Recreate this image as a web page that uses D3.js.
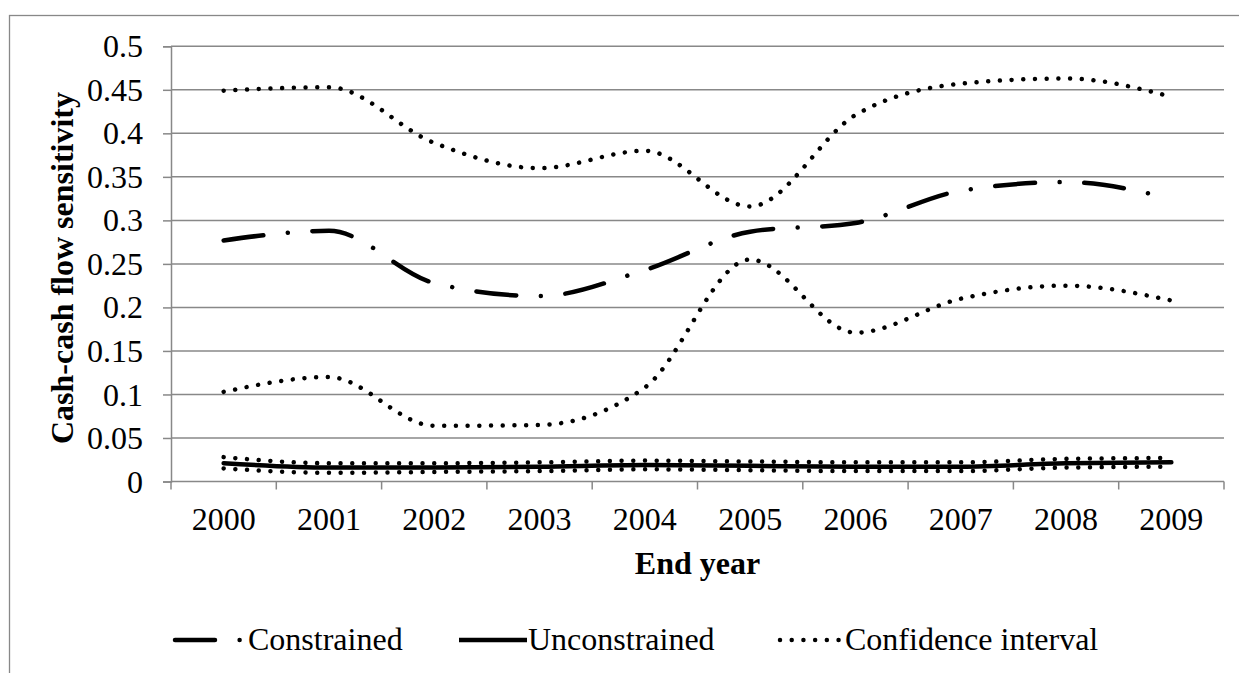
<!DOCTYPE html>
<html>
<head>
<meta charset="utf-8">
<script src="https://cdn.jsdelivr.net/npm/d3@7"></script>
<style>
  html, body { margin: 0; padding: 0; background: #fff; }
  svg { display: block; }
</style>
</head>
<body>
<svg id="chart" width="1239" height="673"></svg>
<script>
const years = ["2000","2001","2002","2003","2004","2005","2006","2007","2008","2009"];
const yTicks = [0, 0.05, 0.1, 0.15, 0.2, 0.25, 0.3, 0.35, 0.4, 0.45, 0.5];

const constrained      = [0.277, 0.288, 0.228, 0.213, 0.243, 0.287, 0.297, 0.334, 0.344, 0.325];
const constrainedUpper = [0.449, 0.453, 0.389, 0.360, 0.380, 0.316, 0.421, 0.457, 0.463, 0.442];
const constrainedLower = [0.103, 0.120, 0.064, 0.065, 0.108, 0.255, 0.171, 0.210, 0.225, 0.208];

const unconstrained      = [0.021, 0.016, 0.016, 0.017, 0.019, 0.018, 0.017, 0.017, 0.021, 0.022];
const unconstrainedUpper = [0.028, 0.021, 0.021, 0.022, 0.024, 0.023, 0.022, 0.022, 0.026, 0.027];
const unconstrainedLower = [0.015, 0.010, 0.011, 0.012, 0.014, 0.013, 0.012, 0.012, 0.016, 0.017];

const legendLabels = ["Constrained", "Unconstrained", "Confidence interval"];

const FONT = "'Liberation Serif', 'Times New Roman', 'DejaVu Serif', serif";
const svg = d3.select("#chart");
const grey = "#888888";

// outer chart border
svg.append("rect")
  .attr("x", 9.5).attr("y", 15.5).attr("width", 1260).attr("height", 700)
  .attr("fill", "none").attr("stroke", grey).attr("stroke-width", 1.3);

const plotLeft = 171, plotRight = 1224, plotTop = 46.3, plotBottom = 481.5;

const x = d3.scaleBand().domain(years).range([plotLeft, plotRight]).padding(0);
const y = d3.scaleLinear().domain([0, 0.5]).range([plotBottom, plotTop]);

// gridlines
svg.append("g")
  .selectAll("line").data(yTicks.filter(d => d > 0)).join("line")
  .attr("x1", plotLeft).attr("x2", plotRight)
  .attr("y1", d => y(d)).attr("y2", d => y(d))
  .attr("stroke", grey).attr("stroke-width", 1.5);

// y axis
const yAxis = svg.append("g")
  .attr("transform", `translate(${plotLeft},0)`)
  .call(d3.axisLeft(y).tickValues(yTicks).tickSize(8).tickPadding(20)
        .tickFormat(d => String(+d.toFixed(2))));
yAxis.attr("font-family", null).attr("font-size", null);
yAxis.select(".domain").attr("stroke", grey).attr("stroke-width", 1.5);
yAxis.selectAll(".tick line").attr("stroke", grey).attr("stroke-width", 1.5);
yAxis.selectAll(".tick text")
  .style("font-family", FONT).style("font-size", "32px").attr("fill", "#000")
  .attr("dy", "0.33em");

// x axis
const xAxis = svg.append("g")
  .attr("transform", `translate(0,${plotBottom})`)
  .call(d3.axisBottom(x).tickSize(0).tickPadding(0));
xAxis.attr("font-family", null).attr("font-size", null);
xAxis.select(".domain").remove();
xAxis.append("line").attr("x1", plotLeft).attr("x2", plotRight).attr("y1", 0).attr("y2", 0)
  .attr("stroke", grey).attr("stroke-width", 1.5);
const boundaries = years.map(d => x(d)).concat([plotRight]);
xAxis.selectAll(".bnd").data(boundaries).join("line").attr("class", "bnd")
  .attr("x1", d => d).attr("x2", d => d).attr("y1", 0).attr("y2", 8)
  .attr("stroke", grey).attr("stroke-width", 1.5);
xAxis.selectAll(".tick text")
  .style("font-family", FONT).style("font-size", "32px").attr("fill", "#000")
  .attr("y", 48.5).attr("dy", 0);

// axis titles
svg.append("text")
  .attr("x", (plotLeft + plotRight) / 2).attr("y", 574)
  .attr("text-anchor", "middle")
  .style("font-family", FONT).style("font-size", "32px").style("font-weight", "bold")
  .text("End year");
svg.append("text")
  .attr("transform", "translate(73.3,268) rotate(-90)")
  .attr("text-anchor", "middle")
  .style("font-family", FONT).style("font-size", "32px").style("font-weight", "bold")
  .text("Cash-cash flow sensitivity");

// lines
const line = d3.line()
  .x((d, i) => x(years[i]) + x.bandwidth() / 2)
  .y(d => y(d))
  .curve(d3.curveMonotoneX);

const styles = {
  constrained: { dash: "40,24.6,0.01,24.6", width: 4.5 },
  solid: { dash: null, width: 4.5 },
  dotted: { dash: "0.01,11.7", width: 4.5 }
};

const series = [
  { data: constrainedUpper, s: styles.dotted },
  { data: constrainedLower, s: styles.dotted },
  { data: unconstrainedUpper, s: styles.dotted },
  { data: unconstrainedLower, s: styles.dotted },
  { data: unconstrained, s: styles.solid },
  { data: constrained, s: styles.constrained }
];

svg.append("g").selectAll("path").data(series).join("path")
  .attr("d", d => line(d.data))
  .attr("fill", "none").attr("stroke", "#000")
  .attr("stroke-width", d => d.s.width)
  .attr("stroke-linecap", "round")
  .attr("stroke-linejoin", "round")
  .attr("stroke-dasharray", d => d.s.dash);

// legend
const legendItems = [
  { label: legendLabels[0], s: styles.constrained, x0: 175, tx: 248, len: 65 },
  { label: legendLabels[1], s: styles.solid, x0: 459, tx: 528, len: 68 },
  { label: legendLabels[2], s: styles.dotted, x0: 780, tx: 845, len: 59 }
];
const lg = svg.append("g");
const ly = 640;
legendItems.forEach((it, i) => {
  lg.append("line")
    .attr("x1", it.x0).attr("x2", it.x0 + it.len).attr("y1", ly).attr("y2", ly)
    .attr("stroke", "#000").attr("stroke-width", it.s.width)
    .attr("stroke-linecap", i === 1 ? "butt" : "round")
    .attr("stroke-dasharray", it.s.dash);
  lg.append("text").attr("x", it.tx).attr("y", 650)
    .style("font-family", FONT).style("font-size", "32px")
    .text(it.label);
});
</script>
</body>
</html>
